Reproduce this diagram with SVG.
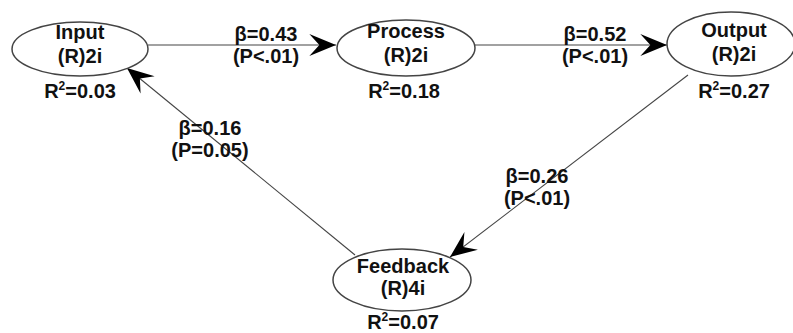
<svg xmlns="http://www.w3.org/2000/svg" width="793" height="333" viewBox="0 0 793 333">
<defs>
<style>
.node ellipse{fill:#fff;stroke:#444;stroke-width:1.5}
text{font-family:"Liberation Sans",Arial,sans-serif;font-weight:bold;font-size:20px;fill:#111;text-anchor:middle}
.sup{font-size:12px}
.conn line{stroke:#444;stroke-width:1.1}
</style>
<marker id="arr" markerUnits="userSpaceOnUse" markerWidth="30" markerHeight="30" viewBox="-25 -13 27 26" refX="0" refY="0" orient="auto">
<path d="M0,0 L-24,-10 L-15,0 L-24,10 Z" fill="#000"/>
</marker>
</defs>
<rect width="793" height="333" fill="#fff"/>
<g class="conn">
<line x1="148" y1="45" x2="336" y2="45" marker-end="url(#arr)"/>
<line x1="475" y1="45" x2="667" y2="45" marker-end="url(#arr)"/>
<line x1="688" y1="75" x2="450" y2="257" marker-end="url(#arr)"/>
<line x1="355" y1="255" x2="127" y2="68" marker-end="url(#arr)"/>
<text x="266" y="41">β=0.43</text>
<text x="266" y="63">(P&lt;.01)</text>
<text x="595" y="41">β=0.52</text>
<text x="595" y="63">(P&lt;.01)</text>
<text x="537" y="183">β=0.26</text>
<text x="537" y="205">(P&lt;.01)</text>
<text x="210" y="135">β=0.16</text>
<text x="210" y="157">(P=0.05)</text>
</g>
<g id="input" class="node">
<ellipse cx="80" cy="49" rx="68" ry="27"/>
<text x="80" y="39">Input</text>
<text x="80" y="63">(R)2i</text>
<text x="80" y="98">R<tspan class="sup" dy="-8">2</tspan><tspan dy="8">=0.03</tspan></text>
</g>
<g id="process" class="node">
<ellipse cx="406" cy="48" rx="69" ry="28"/>
<text x="406" y="38">Process</text>
<text x="406" y="62">(R)2i</text>
<text x="404" y="98">R<tspan class="sup" dy="-8">2</tspan><tspan dy="8">=0.18</tspan></text>
</g>
<g id="output" class="node">
<ellipse cx="731" cy="44" rx="64" ry="32"/>
<text x="734" y="37">Output</text>
<text x="734" y="61">(R)2i</text>
<text x="734" y="98">R<tspan class="sup" dy="-8">2</tspan><tspan dy="8">=0.27</tspan></text>
</g>
<g id="feedback" class="node">
<ellipse cx="402" cy="280" rx="69" ry="31"/>
<text x="403" y="273">Feedback</text>
<text x="403" y="295">(R)4i</text>
<text x="403" y="329">R<tspan class="sup" dy="-8">2</tspan><tspan dy="8">=0.07</tspan></text>
</g>
</svg>
